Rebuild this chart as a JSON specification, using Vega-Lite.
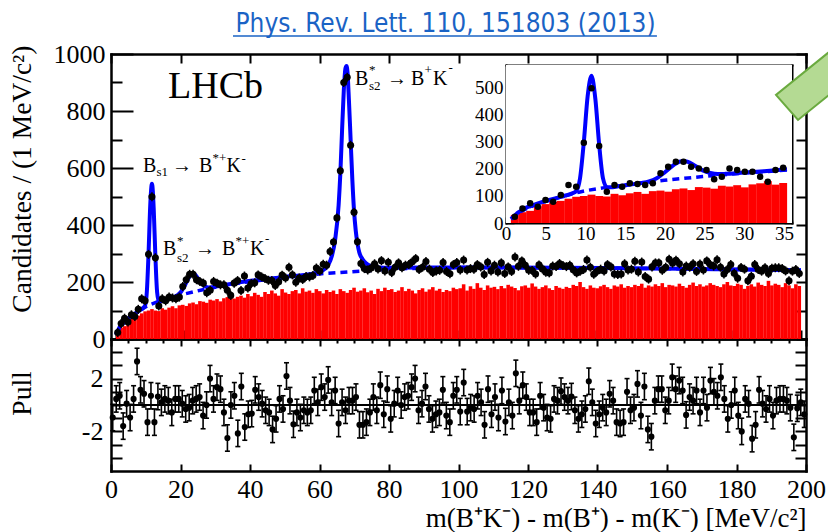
{
"$schema": "https://vega.github.io/schema/vega-lite/v6.json",
"width": 695, "height": 417,
"autosize": {"type": "none"},
"padding": {"left": 111, "top": 54, "right": 22, "bottom": 61},
"background": "white",
"title": {"text": "Phys. Rev. Lett. 110, 151803 (2013)", "font": "Liberation Sans Narrow, DejaVu Sans Condensed, Roboto", "fontSize": 26, "fontWeight": "normal", "color": "#1a63c5", "anchor": "middle", "frame": "group", "offset": -3, "dx": -13},
"config": {
 "font": "Liberation Serif",
 "view": {"stroke": null},
 "axis": {"grid": false, "domainColor": "black", "domainWidth": 2.5, "domainCap": "square", "tickColor": "black", "tickWidth": 2, "labelFont": "Liberation Serif", "labelColor": "black", "labelFontSize": 26, "labelFlush": false, "labelOverlap": false, "labelBound": false, "titleFont": "Liberation Serif", "titleColor": "black", "titleFontWeight": "normal", "titleFontSize": 27.5, "zindex": 1},
 "axisX": {"labelFont": "Liberation Serif"},
 "axisY": {"labelFont": "Liberation Serif"}
},
"datasets": {
 "obs": [
{"x":0.5,"n":23,"h":30,"p":-0.95},{"x":1.5,"n":54,"h":40,"p":0.46},{"x":2.5,"n":73,"h":45,"p":0.7},{"x":3.5,"n":60,"h":62,"p":-1.6},{"x":4.5,"n":85,"h":70,"p":0.1},
{"x":5.5,"n":79,"h":78,"p":-0.95},{"x":6.5,"n":104,"h":82,"p":0.46},{"x":7.5,"n":141,"h":90,"p":3.3},{"x":8.5,"n":134,"h":97,"p":1.15},{"x":9.5,"n":297,"h":100,"p":0.85},
{"x":10.5,"n":499,"h":105,"p":-1.3},{"x":11.5,"n":285,"h":100,"p":0.7},{"x":12.5,"n":116,"h":98,"p":-1.3},{"x":13.5,"n":141,"h":108,"p":0.64},{"x":14.5,"n":134,"h":103,"p":0.2},
{"x":15.5,"n":147,"h":110,"p":0.46},{"x":16.5,"n":144,"h":115,"p":0.33},{"x":17.5,"n":141,"h":108,"p":-0.56},{"x":18.5,"n":147,"h":118,"p":0.46},{"x":19.5,"n":184,"h":120,"p":0.46},
{"x":20.5,"n":208,"h":116,"p":0.1},{"x":21.5,"n":227,"h":125,"p":-0.3},{"x":22.5,"n":227,"h":128,"p":-0.2},{"x":23.5,"n":208,"h":122,"p":0.33},{"x":24.5,"n":202,"h":133,"p":0.46},
{"x":25.5,"n":196,"h":131,"p":0.6},{"x":26.5,"n":162,"h":127,"p":-0.8},{"x":27.5,"n":171,"h":138,"p":0},{"x":28.5,"n":202,"h":135,"p":2.0},{"x":29.5,"n":196,"h":140,"p":0.46},
{"x":30.5,"n":190,"h":132,"p":1.35},{"x":31.5,"n":190,"h":143,"p":1.2},{"x":32.5,"n":171,"h":147,"p":-0.56},{"x":33.5,"n":153,"h":155,"p":-2.5},{"x":34.5,"n":196,"h":142,"p":0},
{"x":35.5,"n":205,"h":148,"p":0.7},{"x":36.5,"n":170,"h":152,"p":-2.15},{"x":37.5,"n":221,"h":145,"p":1.4},{"x":38.5,"n":179,"h":158,"p":-1.67},{"x":39.5,"n":195,"h":150,"p":-0.7},
{"x":40.5,"n":197,"h":162,"p":-0.65},{"x":41.5,"n":225,"h":155,"p":1.15},{"x":42.5,"n":218,"h":148,"p":0.6},{"x":43.5,"n":212,"h":165,"p":0.1},{"x":44.5,"n":206,"h":158,"p":-0.4},
{"x":45.5,"n":205,"h":170,"p":-0.56},{"x":46.5,"n":188,"h":160,"p":-1.85},{"x":47.5,"n":201,"h":152,"p":-1.05},{"x":48.5,"n":224,"h":175,"p":0.46},{"x":49.5,"n":214,"h":163,"p":-0.3},
{"x":50.5,"n":252,"h":158,"p":2.2},{"x":51.5,"n":225,"h":168,"p":0.33},{"x":52.5,"n":199,"h":172,"p":-1.46},{"x":53.5,"n":214,"h":160,"p":-0.56},{"x":54.5,"n":209,"h":178,"p":-0.95},
{"x":55.5,"n":219,"h":166,"p":-0.4},{"x":56.5,"n":218,"h":170,"p":-0.56},{"x":57.5,"n":223,"h":162,"p":-0.4},{"x":58.5,"n":249,"h":175,"p":1.1},{"x":59.5,"n":239,"h":168,"p":0.2},
{"x":60.5,"n":262,"h":160,"p":1.35},{"x":61.5,"n":259,"h":172,"p":0.6},{"x":62.5,"n":307,"h":165,"p":1.9},{"x":63.5,"n":340,"h":170,"p":0.2},{"x":64.5,"n":425,"h":158,"p":1.1},
{"x":65.5,"n":590,"h":175,"p":-1.4},{"x":66.5,"n":900,"h":168,"p":0.2},{"x":67.5,"n":918,"h":162,"p":-0.4},{"x":68.5,"n":680,"h":172,"p":0.33},{"x":69.5,"n":445,"h":180,"p":0.33},
{"x":70.5,"n":341,"h":166,"p":0.6},{"x":71.5,"n":265,"h":170,"p":-1.5},{"x":72.5,"n":247,"h":178,"p":-1.5},{"x":73.5,"n":242,"h":164,"p":-1.3},{"x":74.5,"n":249,"h":170,"p":-0.56},
{"x":75.5,"n":264,"h":158,"p":0.6},{"x":76.5,"n":246,"h":176,"p":-0.4},{"x":77.5,"n":275,"h":168,"p":1.5},{"x":78.5,"n":239,"h":180,"p":-0.7},{"x":79.5,"n":269,"h":172,"p":1.2},
{"x":80.5,"n":233,"h":175,"p":-1.05},{"x":81.5,"n":252,"h":165,"p":0.1},{"x":82.5,"n":267,"h":170,"p":1.1},{"x":83.5,"n":250,"h":182,"p":0},{"x":84.5,"n":259,"h":168,"p":0.6},
{"x":85.5,"n":261,"h":176,"p":0.7},{"x":86.5,"n":271,"h":170,"p":1.35},{"x":87.5,"n":282,"h":160,"p":2.0},{"x":88.5,"n":244,"h":172,"p":-0.4},{"x":89.5,"n":252,"h":178,"p":0.1},
{"x":90.5,"n":272,"h":166,"p":1.4},{"x":91.5,"n":245,"h":174,"p":-0.3},{"x":92.5,"n":233,"h":182,"p":-1.05},{"x":93.5,"n":239,"h":170,"p":-0.7},{"x":94.5,"n":241,"h":176,"p":-0.56},
{"x":95.5,"n":268,"h":165,"p":1.15},{"x":96.5,"n":237,"h":172,"p":-0.8},{"x":97.5,"n":229,"h":168,"p":-1.3},{"x":98.5,"n":261,"h":180,"p":0.7},{"x":99.5,"n":268,"h":175,"p":1.15},
{"x":100.5,"n":242,"h":178,"p":-0.5},{"x":101.5,"n":277,"h":192,"p":1.7},{"x":102.5,"n":242,"h":170,"p":-0.5},{"x":103.5,"n":247,"h":185,"p":-0.2},{"x":104.5,"n":245,"h":176,"p":-0.3},
{"x":105.5,"n":261,"h":196,"p":0.7},{"x":106.5,"n":253,"h":180,"p":0.2},{"x":107.5,"n":226,"h":172,"p":-1.5},{"x":108.5,"n":269,"h":188,"p":1.2},{"x":109.5,"n":239,"h":180,"p":-0.7},
{"x":110.5,"n":259,"h":183,"p":0.6},{"x":111.5,"n":235,"h":175,"p":-0.95},{"x":112.5,"n":267,"h":186,"p":1.1},{"x":113.5,"n":230,"h":178,"p":-1.25},{"x":114.5,"n":253,"h":190,"p":0.2},
{"x":115.5,"n":237,"h":184,"p":-0.8},{"x":116.5,"n":288,"h":179,"p":2.4},{"x":117.5,"n":255,"h":171,"p":0.33},{"x":118.5,"n":274,"h":185,"p":1.5},{"x":119.5,"n":259,"h":188,"p":0.6},
{"x":120.5,"n":241,"h":180,"p":-0.56},{"x":121.5,"n":240,"h":195,"p":-0.56},{"x":122.5,"n":228,"h":184,"p":-1.3},{"x":123.5,"n":260,"h":176,"p":0.7},{"x":124.5,"n":246,"h":182,"p":-0.2},
{"x":125.5,"n":234,"h":188,"p":-0.95},{"x":126.5,"n":232,"h":178,"p":-1.05},{"x":127.5,"n":256,"h":172,"p":0.46},{"x":128.5,"n":254,"h":186,"p":0.33},{"x":129.5,"n":265,"h":180,"p":1.05},
{"x":130.5,"n":258,"h":176,"p":0.6},{"x":131.5,"n":254,"h":183,"p":0.33},{"x":132.5,"n":259,"h":179,"p":0.64},{"x":133.5,"n":243,"h":190,"p":-0.4},{"x":134.5,"n":232,"h":186,"p":-1.05},
{"x":135.5,"n":238,"h":200,"p":-0.7},{"x":136.5,"n":244,"h":182,"p":-0.3},{"x":137.5,"n":277,"h":176,"p":1.8},{"x":138.5,"n":252,"h":188,"p":0.2},{"x":139.5,"n":227,"h":180,"p":-1.4},
{"x":140.5,"n":238,"h":178,"p":-0.7},{"x":141.5,"n":245,"h":185,"p":-0.2},{"x":142.5,"n":239,"h":190,"p":-0.56},{"x":143.5,"n":261,"h":182,"p":0.85},{"x":144.5,"n":253,"h":176,"p":0.33},
{"x":145.5,"n":228,"h":188,"p":-1.3},{"x":146.5,"n":226,"h":184,"p":-1.4},{"x":147.5,"n":228,"h":192,"p":-1.3},{"x":148.5,"n":264,"h":180,"p":1.0},{"x":149.5,"n":242,"h":186,"p":-0.4},
{"x":150.5,"n":245,"h":182,"p":-0.2},{"x":151.5,"n":273,"h":190,"p":1.6},{"x":152.5,"n":235,"h":186,"p":-0.8},{"x":153.5,"n":270,"h":194,"p":1.4},{"x":154.5,"n":219,"h":180,"p":-1.85},
{"x":155.5,"n":210,"h":188,"p":-2.4},{"x":156.5,"n":253,"h":184,"p":0.33},{"x":157.5,"n":267,"h":192,"p":1.2},{"x":158.5,"n":267,"h":186,"p":1.2},{"x":159.5,"n":241,"h":196,"p":-0.4},
{"x":160.5,"n":252,"h":182,"p":0.33},{"x":161.5,"n":280,"h":190,"p":2.1},{"x":162.5,"n":266,"h":188,"p":1.2},{"x":163.5,"n":276,"h":184,"p":1.85},{"x":164.5,"n":264,"h":194,"p":1.1},
{"x":165.5,"n":235,"h":186,"p":-0.75},{"x":166.5,"n":256,"h":180,"p":0.6},{"x":167.5,"n":252,"h":190,"p":0.33},{"x":168.5,"n":264,"h":198,"p":1.1},{"x":169.5,"n":237,"h":186,"p":-0.56},
{"x":170.5,"n":263,"h":192,"p":1.1},{"x":171.5,"n":242,"h":184,"p":-0.2},{"x":172.5,"n":274,"h":188,"p":1.85},{"x":173.5,"n":261,"h":196,"p":1.0},{"x":174.5,"n":256,"h":190,"p":0.7},
{"x":175.5,"n":278,"h":186,"p":2.1},{"x":176.5,"n":252,"h":182,"p":0.46},{"x":177.5,"n":228,"h":192,"p":-1.05},{"x":178.5,"n":244,"h":200,"p":0},{"x":179.5,"n":261,"h":188,"p":1.1},
{"x":180.5,"n":231,"h":186,"p":-0.8},{"x":181.5,"n":213,"h":194,"p":-2.0},{"x":182.5,"n":251,"h":190,"p":0.46},{"x":183.5,"n":245,"h":176,"p":0.1},{"x":184.5,"n":204,"h":186,"p":-2.55},
{"x":185.5,"n":220,"h":192,"p":-1.5},{"x":186.5,"n":261,"h":184,"p":1.15},{"x":187.5,"n":244,"h":198,"p":0.1},{"x":188.5,"n":238,"h":190,"p":-0.3},{"x":189.5,"n":250,"h":186,"p":0.46},
{"x":190.5,"n":230,"h":204,"p":-0.8},{"x":191.5,"n":248,"h":188,"p":0.33},{"x":192.5,"n":250,"h":194,"p":0.46},{"x":193.5,"n":250,"h":190,"p":0.46},{"x":194.5,"n":247,"h":182,"p":0.33},
{"x":195.5,"n":239,"h":196,"p":-0.2},{"x":196.5,"n":204,"h":188,"p":-2.45},{"x":197.5,"n":238,"h":178,"p":-0.25},{"x":198.5,"n":244,"h":192,"p":0.2},{"x":199.5,"n":230,"h":186,"p":-0.7}
 ],
 "fit": [
{"x":0,"f":15},{"x":0.5,"f":28},{"x":1,"f":40},{"x":1.5,"f":49},{"x":2,"f":57},{"x":2.5,"f":62},{"x":3,"f":67},{"x":4,"f":77},{"x":5,"f":85},{"x":6,"f":93},{"x":7,"f":101},{"x":8,"f":110},{"x":8.5,"f":118},{"x":9,"f":165},{"x":9.5,"f":300},{"x":10,"f":470},{"x":10.5,"f":545},{"x":11,"f":460},{"x":11.5,"f":290},{"x":12,"f":165},{"x":12.5,"f":133},{"x":13,"f":132},{"x":14,"f":136},{"x":15,"f":140},{"x":16,"f":144},{"x":17,"f":148},{"x":18,"f":154},{"x":19,"f":166},{"x":20,"f":186},{"x":21,"f":210},{"x":22,"f":227},{"x":22.5,"f":230},{"x":23,"f":227},{"x":24,"f":212},{"x":25,"f":195},{"x":26,"f":185},{"x":27,"f":181},{"x":28,"f":182},{"x":30,"f":186},{"x":33,"f":192},{"x":36,"f":199},{"x":40,"f":205},{"x":45,"f":212},{"x":50,"f":219},{"x":55,"f":225},{"x":58,"f":231},{"x":60,"f":238},{"x":61,"f":246},{"x":62,"f":260},{"x":63,"f":290},{"x":64,"f":350},{"x":65,"f":470},{"x":65.5,"f":580},{"x":66,"f":730},{"x":66.5,"f":870},{"x":67,"f":950},{"x":67.3,"f":958},{"x":67.6,"f":935},{"x":68,"f":840},{"x":68.5,"f":700},{"x":69,"f":560},{"x":69.5,"f":450},{"x":70,"f":380},{"x":70.5,"f":335},{"x":71,"f":305},{"x":72,"f":280},{"x":73,"f":266},{"x":74,"f":258},{"x":75,"f":254},{"x":77,"f":251},{"x":80,"f":250},{"x":100,"f":251},{"x":130,"f":250},{"x":150,"f":248},{"x":175,"f":245},{"x":200,"f":241}
 ],
 "bg": [
{"x":0,"g":15},{"x":1,"g":38},{"x":2,"g":53},{"x":3,"g":65},{"x":4,"g":75},{"x":5,"g":84},{"x":6,"g":92},{"x":7,"g":100},{"x":8,"g":108},{"x":9,"g":115},{"x":10,"g":121},{"x":12,"g":130},{"x":15,"g":141},{"x":20,"g":158},{"x":25,"g":172},{"x":30,"g":184},{"x":36,"g":196},{"x":40,"g":203},{"x":50,"g":216},{"x":60,"g":229},{"x":70,"g":237},{"x":80,"g":245},{"x":90,"g":249},{"x":100,"g":251},{"x":130,"g":250},{"x":150,"g":248},{"x":175,"g":245},{"x":200,"g":241}
 ],
 "annBase": [
{"x":9.21,"y":586,"t":"B"},{"x":17.55,"y":586,"t":"→"},{"x":25.32,"y":586,"t":"B"},{"x":33.24,"y":586,"t":"K"},
{"x":14.96,"y":295,"t":"B"},{"x":24.17,"y":295,"t":"→"},{"x":31.94,"y":295,"t":"B"},{"x":40.0,"y":295,"t":"K"},
{"x":70.22,"y":891,"t":"B"},{"x":79.42,"y":891,"t":"→"},{"x":86.33,"y":891,"t":"B"},{"x":92.66,"y":891,"t":"K"}
 ],
 "annSub": [
{"x":13.09,"y":572,"t":"s1"},{"x":18.99,"y":270,"t":"s2"},{"x":74.24,"y":874,"t":"s2"}
 ],
 "annSup": [
{"x":29.21,"y":621,"t":"*+"},{"x":37.55,"y":618,"t":"-"},
{"x":18.99,"y":330,"t":"*"},{"x":35.83,"y":330,"t":"*+"},{"x":44.32,"y":337,"t":"-"},
{"x":74.24,"y":930,"t":"*"},{"x":90.22,"y":930,"t":"+"},{"x":97.12,"y":937,"t":"-"}
 ]
},
"layer": [
 {"layer": [
  {"data": {"name": "obs"}, "mark": {"type": "bar", "color": "#ff0000", "width": 3.55},
   "encoding": {
    "x": {"field": "x", "type": "quantitative", "scale": {"domain": [0,200], "range": [0,695], "nice": false, "zero": false},
          "axis": {"orient": "bottom", "offset": -132, "values": [0,5,10,15,20,25,30,35,40,45,50,55,60,65,70,75,80,85,90,95,100,105,110,115,120,125,130,135,140,145,150,155,160,165,170,175,180,185,190,195,200], "labels": false, "title": null, "tickSize": {"condition": {"test": "datum.value % 20 === 0", "value": -9}, "value": -5}}},
    "y": {"field": "h", "type": "quantitative", "scale": {"domain": [0,1000], "range": [285,0], "nice": false, "zero": false},
          "axis": {"orient": "left", "values": [0,50,100,150,200,250,300,350,400,450,500,550,600,650,700,750,800,850,900,950,1000], "labelExpr": "datum.value % 200 === 0 ? '' + datum.value : ''", "labelFont": "Liberation Serif", "tickSize": {"condition": {"test": "datum.value % 200 === 0", "value": -22}, "value": -11}, "labelPadding": 28, "title": "Candidates / (1 MeV/c²)", "titleX": -89, "titleY": -9, "titleAlign": "right", "titleAngle": 270, "titleBaseline": "middle"}}
   }},
  {"data": {"name": "bg"}, "mark": {"type": "line", "color": "#0000ff", "strokeWidth": 3.5, "strokeDash": [7,5]},
   "encoding": {"x": {"field": "x", "type": "quantitative"}, "y": {"field": "g", "type": "quantitative"}}},
  {"data": {"name": "fit"}, "mark": {"type": "line", "color": "#0000ff", "strokeWidth": 4, "interpolate": "monotone"},
   "encoding": {"x": {"field": "x", "type": "quantitative"}, "y": {"field": "f", "type": "quantitative"}}},
  {"data": {"name": "obs"}, "mark": {"type": "tick", "orient": "vertical", "color": "black", "size": 9, "thickness": 1.5, "opacity": 1},
   "encoding": {"x": {"field": "x", "type": "quantitative"}, "y": {"field": "n", "type": "quantitative"}}},
  {"data": {"name": "obs"}, "mark": {"type": "circle", "size": 50, "color": "black", "opacity": 1},
   "encoding": {"x": {"field": "x", "type": "quantitative"}, "y": {"field": "n", "type": "quantitative"}}}
 ]},
 {"layer": [
  {"data": {"values": [{"x": 16.4, "y": 846, "t": "LHCb"}]}, "mark": {"type": "text", "font": "Liberation Serif", "fontSize": 38, "align": "left", "baseline": "alphabetic", "color": "black"},
   "encoding": {
    "x": {"field": "x", "type": "quantitative", "scale": {"domain": [0,200], "range": [0,695], "nice": false, "zero": false},
          "axis": {"orient": "top", "values": [0,5,10,15,20,25,30,35,40,45,50,55,60,65,70,75,80,85,90,95,100,105,110,115,120,125,130,135,140,145,150,155,160,165,170,175,180,185,190,195,200], "labels": false, "title": null, "tickSize": {"condition": {"test": "datum.value % 20 === 0", "value": -9}, "value": -5}}},
    "y": {"field": "y", "type": "quantitative", "scale": {"domain": [0,1000], "range": [285,0], "nice": false, "zero": false},
          "axis": {"orient": "right", "values": [0,50,100,150,200,250,300,350,400,450,500,550,600,650,700,750,800,850,900,950,1000], "labels": false, "title": null, "tickSize": -10}},
    "text": {"field": "t"}
   }},
  {"data": {"name": "annBase"}, "mark": {"type": "text", "font": "Liberation Serif", "fontSize": 20, "align": "left", "baseline": "alphabetic", "color": "black"},
   "encoding": {"x": {"field": "x", "type": "quantitative"}, "y": {"field": "y", "type": "quantitative"}, "text": {"field": "t"}}},
  {"data": {"name": "annSub"}, "mark": {"type": "text", "font": "Liberation Serif", "fontSize": 13, "align": "left", "baseline": "alphabetic", "color": "black"},
   "encoding": {"x": {"field": "x", "type": "quantitative"}, "y": {"field": "y", "type": "quantitative"}, "text": {"field": "t"}}},
  {"data": {"name": "annSup"}, "mark": {"type": "text", "font": "Liberation Serif", "fontSize": 13, "align": "left", "baseline": "alphabetic", "color": "black"},
   "encoding": {"x": {"field": "x", "type": "quantitative"}, "y": {"field": "y", "type": "quantitative"}, "text": {"field": "t"}}}
 ]},
 {"data": {"values": [{}]}, "mark": {"type": "rect", "fill": "white"},
  "encoding": {
   "x": {"datum": 0, "type": "quantitative", "scale": {"domain": [0,36], "range": [395,681], "nice": false, "zero": false},
         "axis": {"orient": "bottom", "offset": -248, "values": [0,1,2,3,4,5,6,7,8,9,10,11,12,13,14,15,16,17,18,19,20,21,22,23,24,25,26,27,28,29,30,31,32,33,34,35,36], "labelExpr": "datum.value % 5 === 0 ? '' + datum.value : ''", "labelFont": "Liberation Serif", "tickSize": {"condition": {"test": "datum.value % 5 === 0", "value": -6}, "value": -3}, "labelPadding": 7, "labelFontSize": 19, "title": null, "domainWidth": 2, "tickWidth": 1.5}},
   "x2": {"datum": 36},
   "y": {"datum": 0, "type": "quantitative", "scale": {"domain": [0,585], "range": [169,11], "nice": false, "zero": false},
         "axis": {"orient": "left", "offset": -395, "values": [0,50,100,150,200,250,300,350,400,450,500,550], "labelExpr": "datum.value % 100 === 0 ? '' + datum.value : ''", "labelFont": "Liberation Serif", "tickSize": {"condition": {"test": "datum.value % 100 === 0", "value": -8}, "value": -4}, "labelPadding": 11, "labelFontSize": 19, "title": null, "domainWidth": 2, "tickWidth": 1.5}},
   "y2": {"datum": 585}
  }},
 {"layer": [
  {"data": {"name": "obs"}, "transform": [{"filter": "datum.x < 36"}], "mark": {"type": "bar", "color": "#ff0000", "width": 7.9},
   "encoding": {
    "x": {"field": "x", "type": "quantitative", "scale": {"domain": [0,36], "range": [395,681], "nice": false, "zero": false},
          "axis": {"orient": "top", "offset": -11, "values": [0,1,2,3,4,5,6,7,8,9,10,11,12,13,14,15,16,17,18,19,20,21,22,23,24,25,26,27,28,29,30,31,32,33,34,35,36], "labels": false, "title": null, "tickSize": {"condition": {"test": "datum.value % 5 === 0", "value": -6}, "value": -3}, "domainWidth": 2, "tickWidth": 1.5}},
    "y": {"field": "h", "type": "quantitative", "scale": {"domain": [0,585], "range": [169,11], "nice": false, "zero": false},
          "axis": {"orient": "right", "offset": -14, "values": [0,50,100,150,200,250,300,350,400,450,500,550], "labels": false, "title": null, "tickSize": {"condition": {"test": "datum.value % 100 === 0", "value": -8}, "value": -4}, "domainWidth": 2, "tickWidth": 1.5}}
   }},
  {"data": {"name": "bg"}, "transform": [{"filter": "datum.x <= 36"}], "mark": {"type": "line", "color": "#0000ff", "strokeWidth": 3.5, "strokeDash": [7,5]},
   "encoding": {"x": {"field": "x", "type": "quantitative"}, "y": {"field": "g", "type": "quantitative"}}},
  {"data": {"name": "fit"}, "transform": [{"filter": "datum.x <= 36"}], "mark": {"type": "line", "color": "#0000ff", "strokeWidth": 4, "interpolate": "monotone"},
   "encoding": {"x": {"field": "x", "type": "quantitative"}, "y": {"field": "f", "type": "quantitative"}}},
  {"data": {"name": "obs"}, "transform": [{"filter": "datum.x < 36"}], "mark": {"type": "circle", "size": 42, "color": "black", "opacity": 1},
   "encoding": {"x": {"field": "x", "type": "quantitative"}, "y": {"field": "n", "type": "quantitative"}}}
 ]},
 {"data": {"values": [{}]}, "mark": {"type": "rule", "color": "black", "strokeWidth": 2},
  "encoding": {
   "x": {"datum": 0, "type": "quantitative", "scale": {"domain": [0,200], "range": [0,695], "nice": false, "zero": false},
         "axis": {"orient": "top", "offset": -285, "values": [0,5,10,15,20,25,30,35,40,45,50,55,60,65,70,75,80,85,90,95,100,105,110,115,120,125,130,135,140,145,150,155,160,165,170,175,180,185,190,195,200], "labels": false, "title": null, "tickSize": {"condition": {"test": "datum.value % 20 === 0", "value": -7}, "value": -4}}},
   "x2": {"datum": 200},
   "y": {"datum": 0, "type": "quantitative", "scale": {"domain": [-5,5], "range": [417,285], "nice": false, "zero": false},
         "axis": {"orient": "right", "values": [-4,-3,-2,-1,0,1,2,3,4], "labels": false, "title": null, "tickSize": -11}}
  }},
 {"layer": [
  {"data": {"name": "obs"}, "mark": {"type": "tick", "orient": "vertical", "color": "black", "size": 26.4, "thickness": 1.6, "opacity": 1},
   "encoding": {
    "x": {"field": "x", "type": "quantitative", "scale": {"domain": [0,200], "range": [0,695], "nice": false, "zero": false},
          "axis": {"orient": "bottom", "values": [0,5,10,15,20,25,30,35,40,45,50,55,60,65,70,75,80,85,90,95,100,105,110,115,120,125,130,135,140,145,150,155,160,165,170,175,180,185,190,195,200], "labelExpr": "datum.value % 20 === 0 ? '' + datum.value : ''", "labelFont": "Liberation Serif", "tickSize": {"condition": {"test": "datum.value % 20 === 0", "value": -7}, "value": -4}, "labelPadding": 12, "title": "m(B⁺K⁻) - m(B⁺) - m(K⁻) [MeV/c²]", "titleX": 695, "titleY": 55, "titleAlign": "right", "titleBaseline": "alphabetic", "titleAngle": 0, "titleFontSize": 27}},
    "y": {"field": "p", "type": "quantitative", "scale": {"domain": [-5,5], "range": [417,285], "nice": false, "zero": false},
          "axis": {"orient": "left", "values": [-4,-3,-2,-1,0,1,2,3,4], "labelExpr": "datum.value === 2 || datum.value === -2 ? '' + datum.value : ''", "labelFont": "Liberation Serif", "tickSize": -11, "labelPadding": 19, "title": "Pull", "titleX": -89, "titleY": 339, "titleAlign": "center", "titleAngle": 270, "titleBaseline": "middle"}}
   }},
  {"data": {"name": "obs"}, "mark": {"type": "tick", "orient": "horizontal", "color": "black", "size": 5, "thickness": 1.6, "yOffset": -13.2, "opacity": 1},
   "encoding": {"x": {"field": "x", "type": "quantitative"}, "y": {"field": "p", "type": "quantitative"}}},
  {"data": {"name": "obs"}, "mark": {"type": "tick", "orient": "horizontal", "color": "black", "size": 5, "thickness": 1.6, "yOffset": 13.2, "opacity": 1},
   "encoding": {"x": {"field": "x", "type": "quantitative"}, "y": {"field": "p", "type": "quantitative"}}},
  {"data": {"name": "obs"}, "mark": {"type": "circle", "size": 38, "color": "black", "opacity": 1},
   "encoding": {"x": {"field": "x", "type": "quantitative"}, "y": {"field": "p", "type": "quantitative"}}}
 ]},
 {"layer": [
  {"data": {"values": [{}]}, "mark": {"type": "rule", "color": "#1a63c5", "strokeWidth": 1.5},
   "encoding": {
    "x": {"datum": 35.1, "type": "quantitative", "scale": {"domain": [0,200], "range": [0,695], "nice": false, "zero": false}, "axis": null},
    "x2": {"datum": 157.1},
    "y": {"datum": 1063, "type": "quantitative", "scale": {"domain": [0,1000], "range": [285,0], "nice": false, "zero": false}, "axis": null}
   }},
  {"data": {"values": [{}]}, "mark": {"type": "point", "shape": "M -0.567 0.25 L -0.2 0.667 L 0.967 -0.277 L 0.6 -0.693 Z", "size": 14400, "filled": true, "fill": "#b4da93", "stroke": "#6aaa3f", "strokeWidth": 2, "opacity": 1},
   "encoding": {
    "x": {"datum": 201.15, "type": "quantitative"},
    "y": {"datum": 909, "type": "quantitative"}
   }}
 ]}
],
"resolve": {"scale": {"x": "independent", "y": "independent"}, "axis": {"x": "independent", "y": "independent"}}
}
